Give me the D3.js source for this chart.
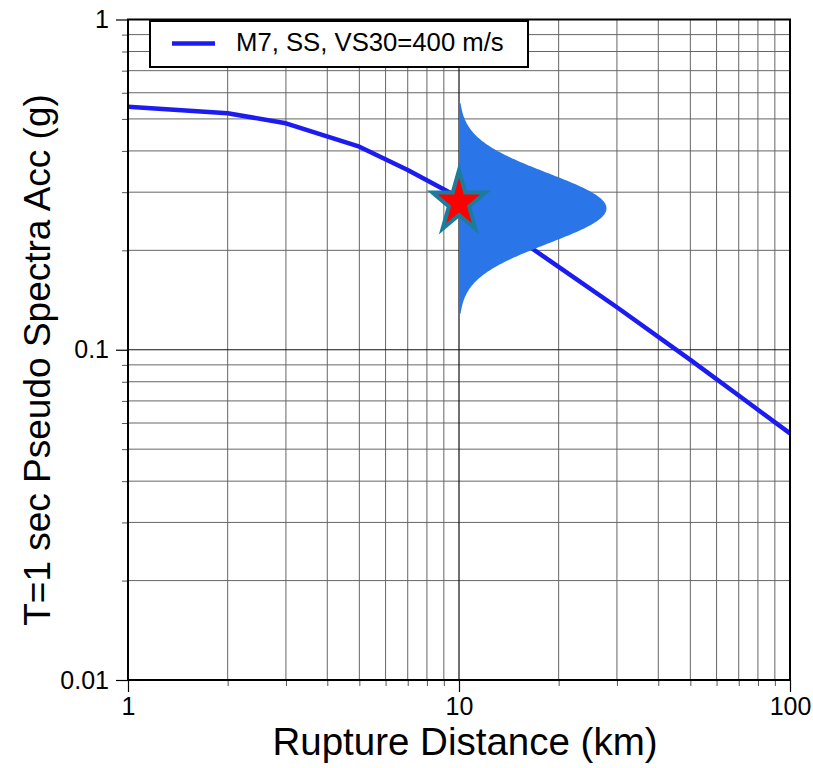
<!DOCTYPE html>
<html><head><meta charset="utf-8">
<script src="https://cdn.jsdelivr.net/npm/d3@7"></script>
<style>
body{margin:0;background:#fff}
svg{display:block}
text{font-family:"Liberation Sans",Arial,Helvetica,sans-serif;fill:#000}
</style>
</head><body>
<svg id="chart" width="813" height="768"></svg>
<script>
// ---- data ----
const distances = [1, 2, 3, 5, 7, 10, 15, 20, 30, 50, 70, 100];
const psa = [0.544, 0.520, 0.485, 0.412, 0.350, 0.289, 0.2176, 0.1782, 0.1345, 0.0932, 0.0727, 0.0558];
const seriesName = "M7, SS, VS30=400 m/s";
const xTickValues = [1, 10, 100];
const xTickLabels = ["1", "10", "100"];
const yTickValues = [0.01, 0.1, 1];
const yTickLabels = ["0.01", "0.1", "1"];
const obsDistance = [10];
const obsPSA = [0.279];
// lognormal distribution drawn at the observation distance
const distMedian = 0.268;
const distSigmaLog10 = 0.106;
const distTruncation = 3;
const distPeakDistance = 27.9;
const xLabel = "Rupture Distance (km)";
const yLabel = "T=1 sec Pseudo Spectra Acc (g)";

// ---- layout ----
const L = 128, R = 790, T = 19.5, B = 680;
const svg = d3.select("#chart");
const x = d3.scaleLog().domain([1, 100]).range([L, R]);
const y = d3.scaleLog().domain([0.01, 1]).range([B, T]);

const minorX = [], minorY = [];
[1, 10].forEach(d => d3.range(2, 10).forEach(k => minorX.push(k * d)));
[0.01, 0.1].forEach(d => d3.range(2, 10).forEach(k => minorY.push(+(k * d).toPrecision(3))));

// grid
const g = svg.append("g");
g.selectAll(".gx").data(minorX).join("line")
  .attr("x1", d => x(d)).attr("x2", d => x(d)).attr("y1", T).attr("y2", B)
  .attr("stroke", "#666").attr("stroke-width", 1);
g.selectAll(".gy").data(minorY).join("line")
  .attr("y1", d => y(d)).attr("y2", d => y(d)).attr("x1", L).attr("x2", R)
  .attr("stroke", "#666").attr("stroke-width", 1);
g.selectAll(".gX").data(xTickValues).join("line")
  .attr("x1", d => x(d)).attr("x2", d => x(d)).attr("y1", T).attr("y2", B)
  .attr("stroke", "#111").attr("stroke-width", 1.2);
g.selectAll(".gY").data(yTickValues).join("line")
  .attr("y1", d => y(d)).attr("y2", d => y(d)).attr("x1", L).attr("x2", R)
  .attr("stroke", "#111").attr("stroke-width", 1.2);

// axes: minor ticks
const axMinorX = d3.axisBottom(x).tickValues(minorX).tickSize(6).tickFormat("");
const axMinorY = d3.axisLeft(y).tickValues(minorY).tickSize(6).tickFormat("");
svg.append("g").attr("transform", `translate(0,${B})`).call(axMinorX)
  .call(s => s.select(".domain").remove())
  .selectAll("line").attr("stroke", "#555");
svg.append("g").attr("transform", `translate(${L},0)`).call(axMinorY)
  .call(s => s.select(".domain").remove())
  .selectAll("line").attr("stroke", "#555");

// axes: major ticks with labels
const axX = d3.axisBottom(x).tickValues(xTickValues).tickSize(12).tickPadding(5)
  .tickFormat((d, i) => xTickLabels[i]);
const axY = d3.axisLeft(y).tickValues(yTickValues).tickSize(12).tickPadding(7)
  .tickFormat((d, i) => yTickLabels[i]);
const gx = svg.append("g").attr("transform", `translate(0,${B})`).call(axX);
gx.select(".domain").remove();
gx.selectAll("line").attr("stroke", "#000").attr("stroke-width", 1.2);
gx.selectAll("text").attr("font-size", 25).attr("font-family", null);
const gy = svg.append("g").attr("transform", `translate(${L},0)`).call(axY);
gy.select(".domain").remove();
gy.selectAll("line").attr("stroke", "#000").attr("stroke-width", 1.2);
gy.selectAll("text").attr("font-size", 25).attr("font-family", null);

// median curve
svg.append("path").datum(distances.map((d, i) => [d, psa[i]]))
  .attr("fill", "none").attr("stroke", "#1c1cf0").attr("stroke-width", 4.5)
  .attr("stroke-linejoin", "round")
  .attr("d", d3.line().x(d => x(d[0])).y(d => y(d[1])));

// distribution (lognormal pdf, scaled in log-distance)
const eps = d3.range(-distTruncation, distTruncation + 0.0001, 0.02);
const lx0 = Math.log10(obsDistance[0]), lx1 = Math.log10(distPeakDistance);
svg.append("path").datum(eps)
  .attr("fill", "#2a76e8")
  .attr("d", d3.area()
    .x0(x(obsDistance[0]))
    .x1(e => x(Math.pow(10, lx0 + Math.exp(-e * e / 2) * (lx1 - lx0))))
    .y(e => y(distMedian * Math.pow(10, e * distSigmaLog10))));

// star marker
function starPath(cx, cy, rx, ry, k) {
  const pts = d3.range(10).map(i => {
    const a = -Math.PI / 2 + i * Math.PI / 5, r = i % 2 ? k : 1;
    return [cx + rx * r * Math.cos(a), cy + ry * r * Math.sin(a)];
  });
  return "M" + pts.map(p => p.join(",")).join("L") + "Z";
}
svg.selectAll(".star").data(obsDistance.map((d, i) => [d, obsPSA[i]])).join("path")
  .attr("d", d => starPath(x(d[0]), y(d[1]), 28, 32.5, 0.382))
  .attr("fill", "#ff0000").attr("stroke", "#1b7d9c").attr("stroke-width", 4)
  .attr("stroke-linejoin", "miter");

// frame
svg.append("rect").attr("x", L).attr("y", T).attr("width", R - L).attr("height", B - T)
  .attr("fill", "none").attr("stroke", "#000").attr("stroke-width", 2);

// legend
const lg = svg.append("g");
lg.append("rect").attr("x", 150).attr("y", 21).attr("width", 378).attr("height", 46)
  .attr("fill", "#fff").attr("stroke", "#000").attr("stroke-width", 2);
lg.append("line").attr("x1", 172).attr("x2", 215).attr("y1", 43.5).attr("y2", 43.5)
  .attr("stroke", "#1c1cf0").attr("stroke-width", 4.5);
lg.append("text").attr("x", 236).attr("y", 51).attr("font-size", 25.7).text(seriesName);

// axis titles
svg.append("text").attr("x", 465).attr("y", 755).attr("text-anchor", "middle")
  .attr("font-size", 38.5).text(xLabel);
svg.append("text").attr("transform", `translate(50,360) rotate(-90)`)
  .attr("text-anchor", "middle").attr("font-size", 37).text(yLabel);
</script>
</body></html>
